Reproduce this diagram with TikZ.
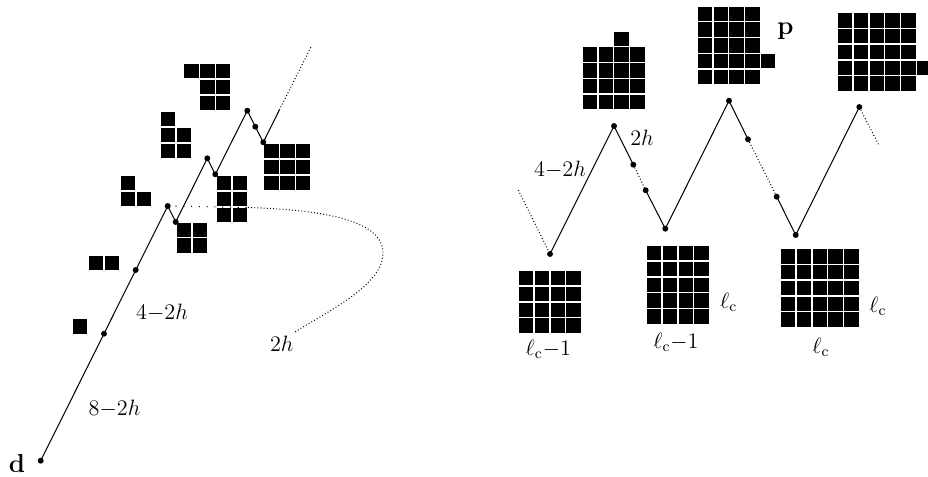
\documentclass[tikz,border=0pt]{standalone}
\usepackage{amsmath}
\newcommand\polycells[3]{%
  \foreach \c/\r in {#3} {\fill (#1+\c*15.8, #2+\r*15.8) rectangle ++(14.4,14.4);}}
\begin{document}
\begin{tikzpicture}[x=0.54pt,y=-0.54pt,
  dot/.style={circle,fill,inner sep=0pt,minimum size=3.2pt},
  seg/.style={line width=0.55pt},
  densedot/.style={line width=0.55pt,dash pattern=on 0.5pt off 1.2pt},
  sparsedot/.style={line width=0.55pt,dash pattern=on 0.6pt off 3.6pt},
  lbl/.style={inner sep=0pt,font=\fontsize{12}{14}\selectfont},
  bigl/.style={inner sep=0pt,font=\fontsize{14}{16}\selectfont\bfseries}]
\useasboundingbox (0,0) rectangle (928,477);
% ---- left path coordinates
\coordinate (L0) at (40.7,460.7);
\coordinate (L1) at (104,333.7);
\coordinate (L2) at (135.7,270);
\coordinate (L3) at (167.7,206);
\coordinate (L4) at (175.7,222);
\coordinate (L5) at (207.3,158.3);
\coordinate (L6) at (215.3,174.3);
\coordinate (L7) at (247.3,110.7);
\coordinate (L8) at (255.3,126.7);
\coordinate (L9) at (263.3,142.3);
\coordinate (LA) at (279.3,110);
\coordinate (LB) at (311.7,45.7);
\coordinate (C1) at (248,207.5);
\coordinate (C2) at (383,253);
\coordinate (C3) at (295,332);
\draw[seg] (L0) -- (L1) -- (L2) -- (L3) -- (L4) -- (L5) -- (L6) -- (L7) -- (L8) -- (L9) -- (LA);
\draw[densedot] (LA) -- (LB);
\draw[sparsedot] (L3) -- (C1);
\draw[densedot] (C1) .. controls (330,210) and (383,222) .. (C2)
                     .. controls (383,285) and (330,310) .. (C3);
% ---- right path coordinates
\coordinate (R0) at (518.3,190);
\coordinate (R1) at (550,254);
\coordinate (R2) at (614,126);
\coordinate (R3) at (633.3,164.7);
\coordinate (R4) at (645.7,190.3);
\coordinate (R5) at (665.3,228.7);
\coordinate (R6) at (729,100.7);
\coordinate (R7) at (748,139.3);
\coordinate (R8) at (776.7,196.7);
\coordinate (R9) at (795.7,235);
\coordinate (RA) at (859.3,107);
\coordinate (RB) at (879.3,146);
\draw[densedot] (R0) -- (R1);
\draw[seg] (R1) -- (R2) -- (R3);
\draw[densedot] (R3) -- (R4);
\draw[seg] (R4) -- (R5) -- (R6) -- (R7);
\draw[densedot] (R7) -- (R8);
\draw[seg] (R8) -- (R9) -- (RA);
\draw[densedot] (RA) -- (RB);
% ---- polyominoes (left)
\polycells{184.3}{64}{0/0,1/0,2/0,1/1,2/1,1/2,2/2}
\polycells{160.7}{112}{0/0,0/1,1/1,0/2,1/2}
\polycells{120.7}{176}{0/0,0/1,1/1}
\polycells{88.7}{256}{0/0,1/0}
\polycells{72.7}{319.3}{0/0}
\polycells{176.7}{222.7}{0/0,1/0,0/1,1/1}
\polycells{216.7}{176}{0/0,1/0,0/1,1/1,0/2,1/2}
\polycells{264.3}{144}{0/0,1/0,2/0,0/1,1/1,2/1,0/2,1/2,2/2}
% ---- polyominoes (right)
\polycells{582.7}{31.7}{2/0,0/1,1/1,2/1,3/1,0/2,1/2,2/2,3/2,0/3,1/3,2/3,3/3,0/4,1/4,2/4,3/4}
\polycells{697.7}{6.7}{0/0,1/0,2/0,3/0,0/1,1/1,2/1,3/1,0/2,1/2,2/2,3/2,0/3,1/3,2/3,3/3,4/3,0/4,1/4,2/4,3/4}
\polycells{838}{13.3}{0/0,1/0,2/0,3/0,4/0,0/1,1/1,2/1,3/1,4/1,0/2,1/2,2/2,3/2,4/2,0/3,1/3,2/3,3/3,4/3,5/3,0/4,1/4,2/4,3/4,4/4}
\polycells{519}{271}{0/0,1/0,2/0,3/0,0/1,1/1,2/1,3/1,0/2,1/2,2/2,3/2,0/3,1/3,2/3,3/3}
\polycells{647}{246}{0/0,1/0,2/0,3/0,0/1,1/1,2/1,3/1,0/2,1/2,2/2,3/2,0/3,1/3,2/3,3/3,0/4,1/4,2/4,3/4}
\polycells{781}{249.3}{0/0,1/0,2/0,3/0,4/0,0/1,1/1,2/1,3/1,4/1,0/2,1/2,2/2,3/2,4/2,0/3,1/3,2/3,3/3,4/3,0/4,1/4,2/4,3/4,4/4}
% ---- dots
\foreach \n in {L0,L1,L2,L3,L4,L5,L6,L7,L8,L9,R1,R2,R3,R4,R5,R6,R7,R8,R9,RA}
  {\node[dot] (d\n) at (\n) {};}
% ---- labels
\node[bigl] (labd) at (17,464) {d};
\node[bigl] (labp) at (785.5,31) {p};
\node[lbl] (lab82h) at (114.5,408.3) {$8{-}2h$};
\node[lbl] (lab42hL) at (162,312.7) {$4{-}2h$};
\node[lbl] (lab2hL) at (281.7,343.7) {$2h$};
\node[lbl] (lab2hR) at (642,138) {$2h$};
\node[lbl] (lab42hR) at (560,169.5) {$4{-}2h$};
\node[lbl] (labA) at (548.3,349) {$\ell_{\mathrm{c}}{-}1$};
\node[lbl] (labB) at (676,342.5) {$\ell_{\mathrm{c}}{-}1$};
\node[lbl] (labC) at (728.7,302.5) {$\ell_{\mathrm{c}}$};
\node[lbl] (labD) at (878,306.5) {$\ell_{\mathrm{c}}$};
\node[lbl] (labE) at (821,347) {$\ell_{\mathrm{c}}$};
\end{tikzpicture}
\end{document}
